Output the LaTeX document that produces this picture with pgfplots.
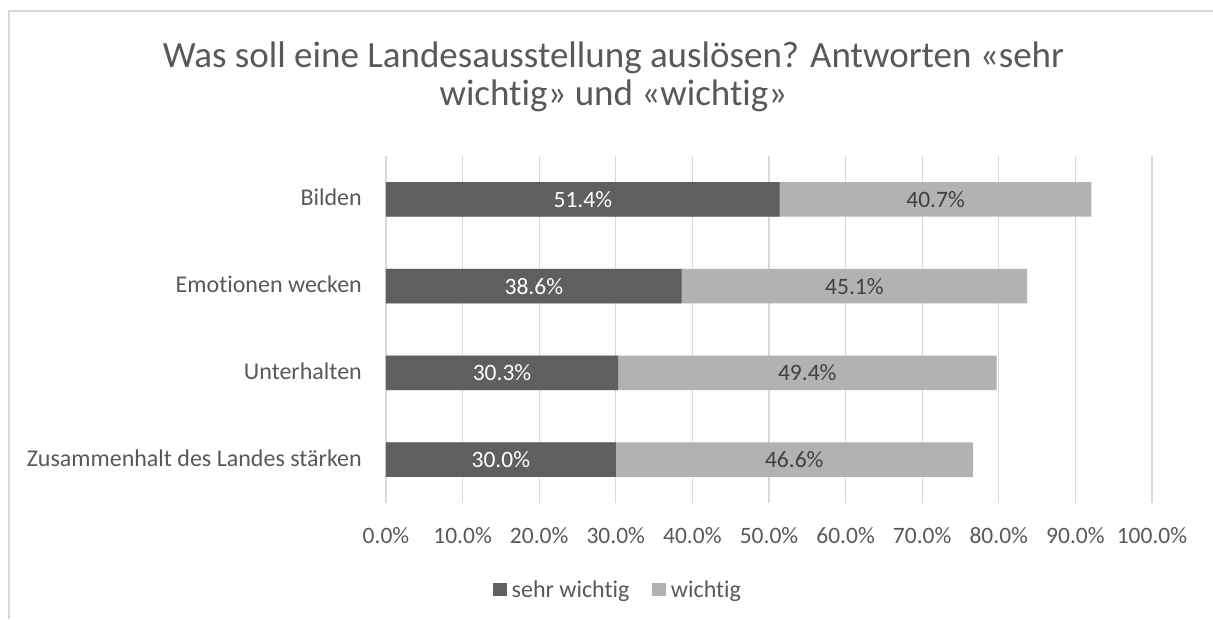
\documentclass[border=0pt]{standalone}
\usepackage{fontspec}
\setmainfont{Carlito}[Ligatures=NoCommon]
\usepackage{pgfplots}
\usepackage{pgfplotstable}
\pgfplotsset{compat=1.18}
\definecolor{darkc}{HTML}{5F5F5F}
\definecolor{lightc}{HTML}{B2B2B2}
\definecolor{gridc}{HTML}{D9D9D9}
\definecolor{txtc}{HTML}{595959}
\definecolor{lbldark}{HTML}{404040}
\pgfplotstableread{
y a b
3 51.4 40.7
2 38.6 45.1
1 30.3 49.4
0 30.0 46.6
}\data
\begin{document}
\begin{tikzpicture}[x=1pt,y=1pt]
\useasboundingbox (0,0) rectangle (1213,619);
\fill[white] (0,0) rectangle (1213,619);
\draw[gridc, line width=1.5pt] (9,0) -- (9,608) -- (1213,608);
\node[anchor=base, text=txtc, font=\fontsize{37}{40}\selectfont, inner sep=0pt] at (613.5,551)
  {Was soll eine Landesausstellung auslösen? Antworten «sehr};
\node[anchor=base, text=txtc, font=\fontsize{37}{40}\selectfont, inner sep=0pt] at (613.5,513)
  {wichtig» und «wichtig»};
\begin{axis}[
  at={(386pt,116pt)}, anchor=south west,
  width=766pt, height=347pt, scale only axis,
  xmin=0, xmax=100, ymin=-0.5, ymax=3.5,
  axis line style={draw=none}, tick style={draw=none},
  xmajorgrids, grid style={gridc, line width=1.3pt},
  xtick={0,10,...,100},
  xticklabels={0.0\%,10.0\%,20.0\%,30.0\%,40.0\%,50.0\%,60.0\%,70.0\%,80.0\%,90.0\%,100.0\%},
  xticklabel style={anchor=base, inner sep=0pt, yshift=-40pt, font=\fontsize{23.5}{28}\selectfont, text=txtc},
  ytick={0,1,2,3},
  yticklabels={Zusammenhalt des Landes stärken, Unterhalten, Emotionen wecken, Bilden},
  yticklabel style={anchor=base east, inner sep=0pt, xshift=-24pt, yshift=-6.5pt, font=\fontsize{24}{28}\selectfont, text=txtc},
  clip=false,
  legend style={at={(0.1397,-0.2493)}, anchor=west, draw=none, fill=none,
    legend columns=2, font=\fontsize{24}{28}\selectfont, text=txtc,
    nodes={inner sep=0pt},
    /tikz/every odd column/.append style={column sep=5pt},
    /tikz/every even column/.append style={column sep=23pt},
    inner sep=0pt},
  legend cell align=left,
  legend image code/.code={\fill[#1] (0pt,-6.5pt) rectangle (13.5pt,6.5pt);},
]
\addplot[xbar, bar width=0.4, bar shift=0pt, fill=lightc, draw=none, forget plot]
  table[x expr=\thisrow{a}+\thisrow{b}, y=y] {\data};
\addplot[xbar, bar width=0.4, bar shift=0pt, fill=darkc, draw=none, forget plot]
  table[x=a, y=y] {\data};
\addplot[draw=none, forget plot, point meta=explicit,
  nodes near coords={\pgfmathprintnumber[assume math mode=true,fixed,fixed zerofill,precision=1]{\pgfplotspointmeta}\%},
  every node near coord/.append style={anchor=base, inner sep=0pt, yshift=-8pt, text=white, font=\fontsize{23.5}{28}\selectfont}]
  table[x expr=\thisrow{a}/2, y=y, meta=a] {\data};
\addplot[draw=none, forget plot, point meta=explicit,
  nodes near coords={\pgfmathprintnumber[assume math mode=true,fixed,fixed zerofill,precision=1]{\pgfplotspointmeta}\%},
  every node near coord/.append style={anchor=base, inner sep=0pt, yshift=-8pt, text=lbldark, font=\fontsize{23.5}{28}\selectfont}]
  table[x expr=\thisrow{a}+\thisrow{b}/2, y=y, meta=b] {\data};
\addlegendimage{fill=darkc, draw=none}
\addlegendentry{sehr wichtig}
\addlegendimage{fill=lightc, draw=none}
\addlegendentry{wichtig}
\end{axis}
\end{tikzpicture}
\end{document}
